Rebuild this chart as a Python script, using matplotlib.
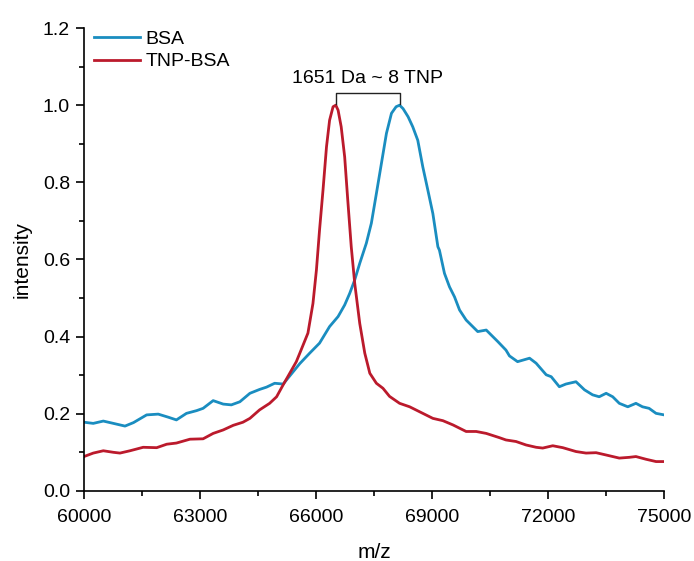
import numpy as np
import matplotlib
matplotlib.use("Agg")
import matplotlib.pyplot as plt
from matplotlib.ticker import MultipleLocator, FormatStrFormatter

plt.rcParams['font.family'] = ['Liberation Sans', 'DejaVu Sans']

# BSA spectrum
bsa_mz = [60000, 60240, 60500, 60760, 61060, 61280, 61620, 61920, 62180, 62390,
          62650, 62910, 63080, 63340, 63600, 63810, 64030, 64290, 64540, 64720,
          64930, 65150, 65320, 65580, 65835, 66090, 66350, 66570, 66740, 66870,
          67000, 67130, 67300, 67430, 67560, 67690, 67820, 67950, 68070, 68160,
          68250, 68380, 68500, 68630, 68760, 68890, 69020, 69150, 69190, 69320,
          69450, 69580, 69710, 69880, 70050, 70180, 70400, 70530, 70700, 70910,
          71000, 71210, 71520, 71690, 71950, 72080, 72290, 72460, 72720, 72940,
          73150, 73320, 73500, 73670, 73840, 74060, 74270, 74440, 74610, 74790, 75000]
bsa_int = [0.178, 0.175, 0.181, 0.175, 0.168, 0.177, 0.197, 0.199, 0.191, 0.184,
           0.201, 0.208, 0.214, 0.234, 0.225, 0.223, 0.231, 0.253, 0.263, 0.269,
           0.279, 0.277, 0.298, 0.330, 0.357, 0.383, 0.426, 0.452, 0.482, 0.512,
           0.547, 0.590, 0.642, 0.694, 0.771, 0.849, 0.927, 0.979, 0.996, 1.000,
           0.991, 0.970, 0.944, 0.909, 0.840, 0.780, 0.719, 0.633, 0.624, 0.564,
           0.529, 0.503, 0.469, 0.443, 0.426, 0.413, 0.417, 0.404, 0.387, 0.365,
           0.350, 0.335, 0.344, 0.331, 0.301, 0.296, 0.270, 0.277, 0.283, 0.262,
           0.249, 0.244, 0.253, 0.244, 0.227, 0.218, 0.227, 0.218, 0.214, 0.201, 0.197]

# TNP-BSA spectrum
tnp_mz = [60000, 60240, 60500, 60760, 60930, 61190, 61530, 61880, 62140, 62390,
          62740, 63080, 63340, 63600, 63860, 64110, 64290, 64540, 64800, 64980,
          65150, 65320, 65490, 65580, 65790, 65920, 66010, 66090, 66180, 66270,
          66350, 66440, 66510, 66570, 66650, 66740, 66820, 66910, 67000, 67130,
          67260, 67390, 67560, 67730, 67900, 68160, 68420, 68680, 69020, 69280,
          69540, 69880, 70140, 70400, 70740, 70910, 71170, 71430, 71690, 71860,
          72120, 72380, 72720, 72980, 73240, 73500, 73840, 74100, 74270, 74530,
          74790, 75000]
tnp_int = [0.089, 0.098, 0.104, 0.100, 0.098, 0.104, 0.113, 0.112, 0.121, 0.124,
           0.134, 0.135, 0.149, 0.158, 0.170, 0.178, 0.188, 0.210, 0.227, 0.244,
           0.275, 0.305, 0.335, 0.357, 0.409, 0.486, 0.573, 0.676, 0.780, 0.892,
           0.961, 0.996, 1.000, 0.987, 0.944, 0.866, 0.754, 0.633, 0.538, 0.434,
           0.357, 0.305, 0.279, 0.266, 0.245, 0.227, 0.218, 0.205, 0.188, 0.182,
           0.171, 0.154, 0.154, 0.149, 0.138, 0.132, 0.128, 0.119, 0.113, 0.111,
           0.117, 0.112, 0.102, 0.098, 0.099, 0.093, 0.085, 0.087, 0.089, 0.082,
           0.076, 0.076]

peak_tnp = 66510
peak_bsa = 68160
shift_label = "1651 Da ~ 8 TNP"

blue = "#1a8dc0"
red = "#bb1a2c"

fig = plt.figure(figsize=(6.94, 5.61), dpi=100)
ax = fig.add_axes([0.121, 0.125, 0.836, 0.825])

ax.plot(bsa_mz, bsa_int, color=blue, lw=2, label="BSA")
ax.plot(tnp_mz, tnp_int, color=red, lw=2, label="TNP-BSA")

# bracket between the two peaks
ax.plot([peak_tnp, peak_tnp, peak_bsa, peak_bsa], [1.003, 1.031, 1.031, 1.003],
        color="#222222", lw=1)
ax.text((peak_tnp + peak_bsa) / 2, 1.048, shift_label, ha="center", va="bottom",
        fontsize=14)

ax.set_xlim(60000, 75000)
ax.set_ylim(0, 1.2)
ax.xaxis.set_major_locator(MultipleLocator(3000))
ax.xaxis.set_minor_locator(MultipleLocator(1500))
ax.yaxis.set_major_locator(MultipleLocator(0.2))
ax.yaxis.set_minor_locator(MultipleLocator(0.1))
ax.yaxis.set_major_formatter(FormatStrFormatter('%.1f'))

for s in ['top', 'right']:
    ax.spines[s].set_visible(False)
for s in ['left', 'bottom']:
    ax.spines[s].set_linewidth(1.2)
ax.tick_params(which='major', direction='out', length=6, width=1.2, labelsize=14)
ax.tick_params(axis='x', which='major', pad=7)
ax.tick_params(axis='y', which='major', pad=4)
ax.tick_params(which='minor', direction='out', length=3.5, width=1.2)

ax.set_xlabel("m/z", fontsize=15, labelpad=12)
ax.set_ylabel("intensity", fontsize=15, labelpad=8)

ax.legend(loc="upper left", frameon=False, fontsize=14, handlelength=2.4,
          handletextpad=0.25, labelspacing=0.25, borderaxespad=0.1,
          bbox_to_anchor=(0.0, 1.016))

fig.savefig("out.png", dpi=100)
